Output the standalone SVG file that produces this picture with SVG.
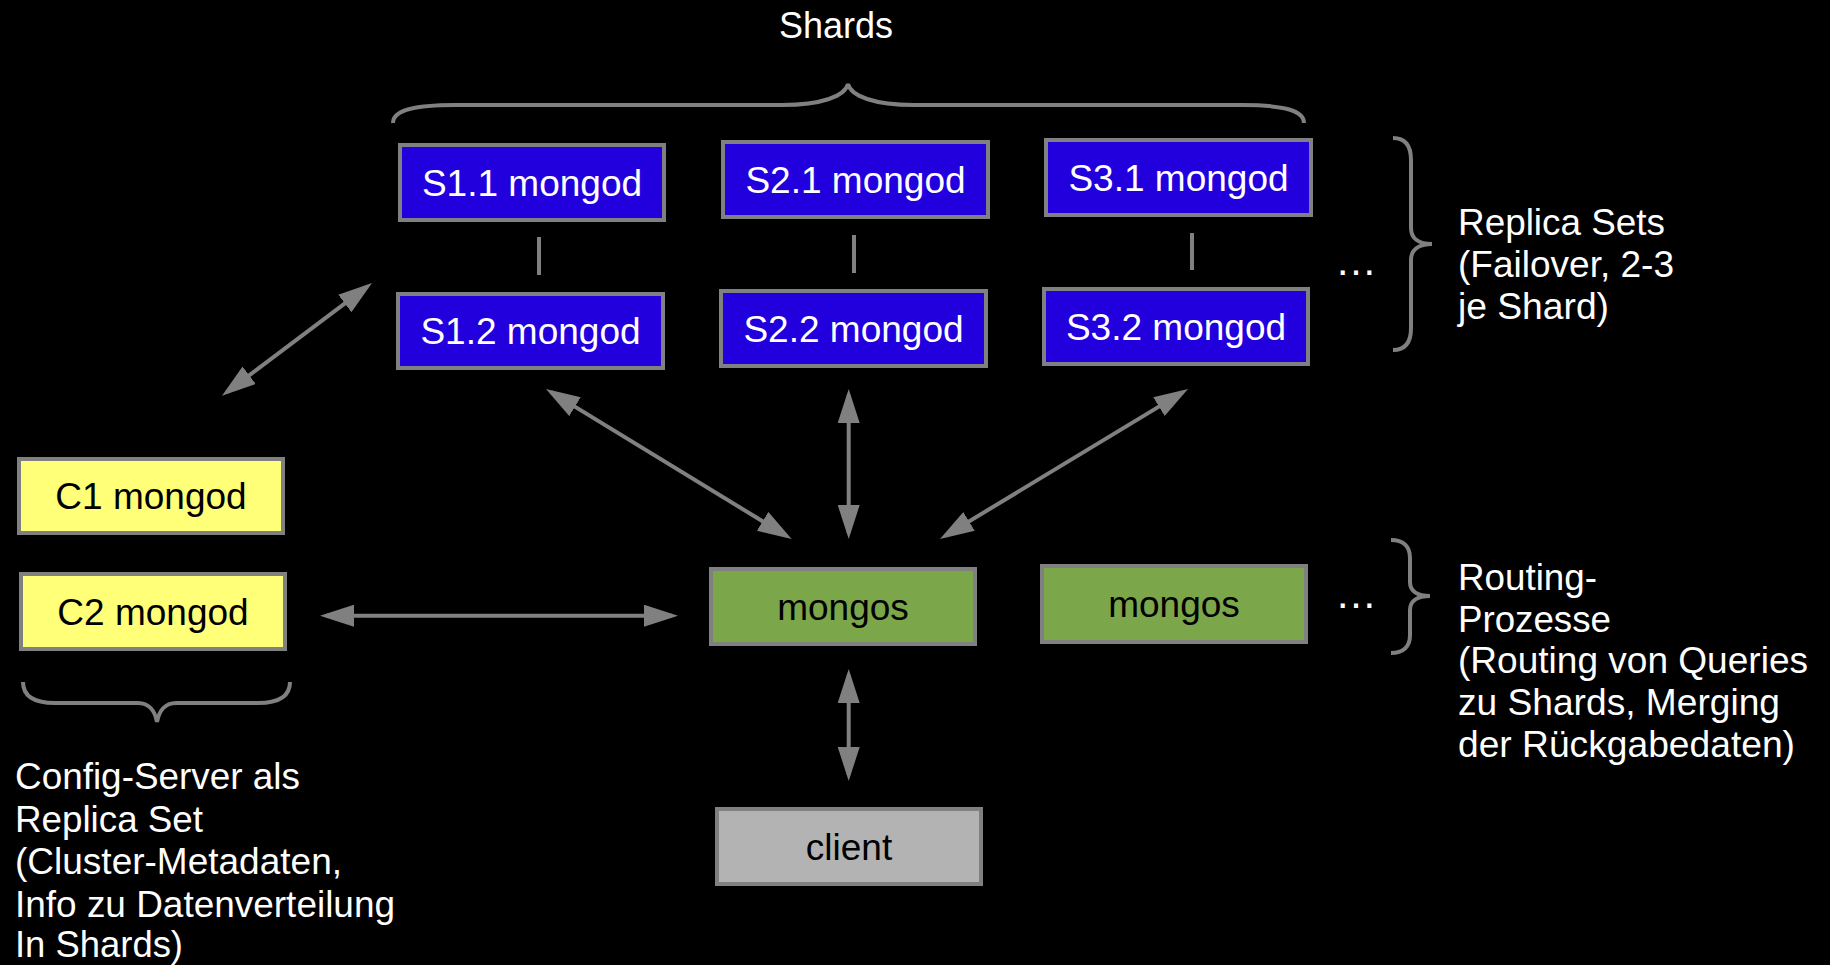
<svg xmlns="http://www.w3.org/2000/svg" width="1830" height="965" viewBox="0 0 1830 965">
<style>
.bg{fill:#000}
.box{stroke:#808080;stroke-width:4}
.shard{fill:#2200dd}
.cfg{fill:#ffff78}
.mgs{fill:#7ca64a}
.cli{fill:#b3b3b3}
.lbl{font-family:"Liberation Sans",Arial,sans-serif;font-size:37px;text-anchor:middle}
.wt{fill:#fff}
.bk{fill:#000}
.ann{font-family:"Liberation Sans",Arial,sans-serif;fill:#fff}
.conn{stroke:#808080;stroke-width:4;fill:none}
.brace{stroke:#808080;stroke-width:4;fill:none}
</style>
<defs>
<marker id="ah" viewBox="0 0 34 22" refX="28" refY="11" markerWidth="34" markerHeight="22" markerUnits="userSpaceOnUse" orient="auto-start-reverse">
<path d="M0,0 L34,11 L0,22 z" fill="#808080"/>
</marker>
</defs>
<rect class="bg" x="0" y="0" width="1830" height="965"/>

<g id="connectors">
<line class="conn" x1="539" y1="237" x2="539" y2="275"/>
<line class="conn" x1="854" y1="235" x2="854" y2="273"/>
<line class="conn" x1="1192" y1="233" x2="1192" y2="270"/>
<line class="conn" x1="226.8" y1="392.1" x2="367.2" y2="286.6" marker-start="url(#ah)" marker-end="url(#ah)"/>
<line class="conn" x1="326" y1="615.7" x2="672" y2="615.7" marker-start="url(#ah)" marker-end="url(#ah)"/>
<line class="conn" x1="551.1" y1="392.1" x2="786.5" y2="535.9" marker-start="url(#ah)" marker-end="url(#ah)"/>
<line class="conn" x1="848.7" y1="395" x2="848.7" y2="533" marker-start="url(#ah)" marker-end="url(#ah)"/>
<line class="conn" x1="1182.9" y1="392.1" x2="945.1" y2="535.9" marker-start="url(#ah)" marker-end="url(#ah)"/>
<line class="conn" x1="848.7" y1="675" x2="848.7" y2="775" marker-start="url(#ah)" marker-end="url(#ah)"/>
</g>

<g id="braces">
<path class="brace" d="M393,123 C393,111 412,105 455,105 L782,105 C822,105 845,96 848,84 C851,96 874,105 914,105 L1242,105 C1285,105 1304,111 1304,123"/>
<path class="brace" d="M1393,138 C1405,138 1411,145 1411,160 L1411,228 C1411,238 1418,244 1432,244 C1418,244 1411,250 1411,260 L1411,328 C1411,343 1405,350 1393,350"/>
<path class="brace" d="M1391,540 C1403,540 1410,546 1410,558 L1410,582 C1410,591 1417,596 1430,596 C1417,596 1410,601 1410,610 L1410,635 C1410,647 1403,653 1391,653"/>
<path class="brace" d="M23,682 C23,696 33,703 55,703 L138,703 C149,703 155,711 157,722 C159,711 165,703 176,703 L258,703 C280,703 290,696 290,682"/>
</g>

<g id="s11"><rect class="box shard" x="400" y="145" width="264" height="75"/><text class="lbl wt" x="532" y="195.5">S1.1 mongod</text></g>
<g id="s21"><rect class="box shard" x="723" y="142" width="265" height="75"/><text class="lbl wt" x="855.5" y="192.5">S2.1 mongod</text></g>
<g id="s31"><rect class="box shard" x="1046" y="140" width="265" height="75"/><text class="lbl wt" x="1178.5" y="190.5">S3.1 mongod</text></g>
<g id="s12"><rect class="box shard" x="398" y="294" width="265" height="74"/><text class="lbl wt" x="530.5" y="344">S1.2 mongod</text></g>
<g id="s22"><rect class="box shard" x="721" y="291" width="265" height="75"/><text class="lbl wt" x="853.5" y="341.5">S2.2 mongod</text></g>
<g id="s32"><rect class="box shard" x="1044" y="289" width="264" height="75"/><text class="lbl wt" x="1176" y="339.5">S3.2 mongod</text></g>
<g id="c1"><rect class="box cfg" x="19" y="459" width="264" height="74"/><text class="lbl bk" x="151" y="509">C1 mongod</text></g>
<g id="c2"><rect class="box cfg" x="21" y="574" width="264" height="75"/><text class="lbl bk" x="153" y="624.5">C2 mongod</text></g>
<g id="mongos1"><rect class="box mgs" x="711" y="569" width="264" height="75"/><text class="lbl bk" x="843" y="619.5">mongos</text></g>
<g id="mongos2"><rect class="box mgs" x="1042" y="566" width="264" height="76"/><text class="lbl bk" x="1174" y="617">mongos</text></g>
<g id="client"><rect class="box cli" x="717" y="809" width="264" height="75"/><text class="lbl bk" x="849" y="859.5">client</text></g>

<g id="shards-label"><text class="ann" x="836" y="38" font-size="36" text-anchor="middle">Shards</text></g>

<g id="ellipsis-replica"><text class="ann" x="1335" y="275" font-size="42">…</text></g>
<g id="ellipsis-routing"><text class="ann" x="1335" y="608" font-size="42">…</text></g>

<g id="replica-label" class="ann" font-size="36">
<text x="1458" y="235" textLength="207" lengthAdjust="spacingAndGlyphs">Replica Sets</text>
<text x="1458" y="277.3" textLength="216" lengthAdjust="spacingAndGlyphs">(Failover, 2-3</text>
<text x="1458" y="319.3" textLength="151" lengthAdjust="spacingAndGlyphs">je Shard)</text>
</g>

<g id="routing-label" class="ann" font-size="36">
<text x="1458" y="590" textLength="139" lengthAdjust="spacingAndGlyphs">Routing-</text>
<text x="1458" y="631.7" textLength="153" lengthAdjust="spacingAndGlyphs">Prozesse</text>
<text x="1458" y="673.3" textLength="350" lengthAdjust="spacingAndGlyphs">(Routing von Queries</text>
<text x="1458" y="715" textLength="322" lengthAdjust="spacingAndGlyphs">zu Shards, Merging</text>
<text x="1458" y="756.7" textLength="337" lengthAdjust="spacingAndGlyphs">der Rückgabedaten)</text>
</g>

<g id="config-label" class="ann" font-size="36">
<text x="15" y="789" textLength="285" lengthAdjust="spacingAndGlyphs">Config-Server als</text>
<text x="15" y="831.5" textLength="188" lengthAdjust="spacingAndGlyphs">Replica Set</text>
<text x="15" y="874" textLength="327" lengthAdjust="spacingAndGlyphs">(Cluster-Metadaten,</text>
<text x="15" y="916.5" textLength="380" lengthAdjust="spacingAndGlyphs">Info zu Datenverteilung</text>
<text x="15" y="957" textLength="168" lengthAdjust="spacingAndGlyphs">In Shards)</text>
</g>
</svg>
